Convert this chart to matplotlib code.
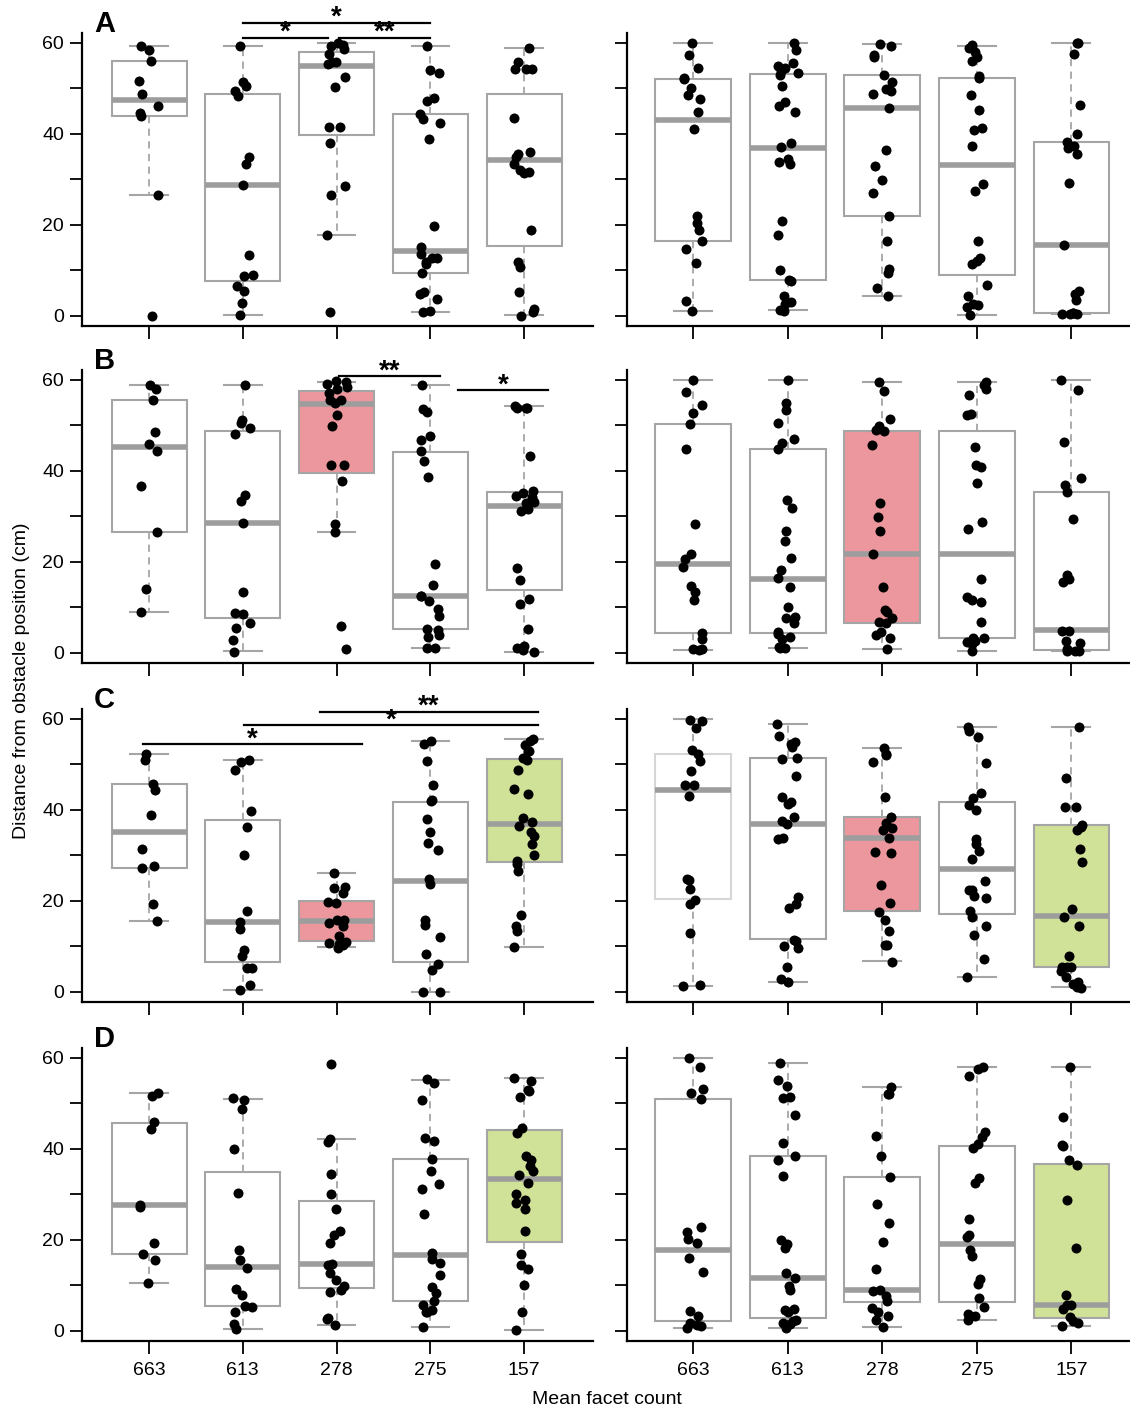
import matplotlib

matplotlib.use("Agg")
import matplotlib.pyplot as plt
import numpy as np

plt.rcParams["font.family"] = ["Liberation Sans", "DejaVu Sans"]

CATEGORIES = ["663", "613", "278", "275", "157"]
Y_LABEL = "Distance from obstacle position (cm)"
X_LABEL = "Mean facet count"

# box stats per category: (whisker low, q1, median, q3, whisker high)
A_LEFT_STATS = [
    (26.6, 43.8, 47.3, 55.9, 59.2),
    (0.2, 7.5, 28.6, 48.8, 59.2),
    (17.6, 39.7, 54.9, 57.9, 59.8),
    (0.7, 9.4, 14.1, 44.2, 59.2),
    (0.1, 15.2, 34.1, 48.6, 58.9),
]
A_LEFT_POINTS = [
    [59.2, 58.4, 55.9, 51.6, 48.6, 46.0, 44.5, 43.8, 26.6, 0.0],
    [59.2, 51.3, 50.5, 48.3, 49.3, 34.9, 33.4, 28.6, 13.4, 8.7, 8.9, 6.4, 5.3, 2.7, 0.1],
    [59.8, 59.3, 59.5, 58.5, 57.4, 55.8, 55.8, 55.3, 52.4, 50.2, 41.4, 41.4, 37.9, 28.4, 26.6, 17.6, 0.7],
    [59.2, 54.0, 53.2, 47.8, 47.1, 44.3, 43.2, 42.3, 38.7, 19.6, 15.0, 13.6, 12.6, 12.6, 11.4, 11.7,
     9.4, 5.1, 4.8, 3.7, 0.9, 0.7],
    [58.9, 55.7, 54.2, 54.1, 54.1, 43.4, 35.9, 35.4, 34.8, 33.3, 31.9, 31.5, 31.3, 18.7, 11.7, 10.6,
     5.1, 1.5, 0.7, 0.0],
]
A_RIGHT_STATS = [
    (1.0, 16.3, 42.9, 52.0, 60.0),
    (1.3, 7.9, 36.9, 53.1, 59.8),
    (4.2, 21.8, 45.7, 52.8, 59.6),
    (0.1, 9.0, 33.0, 52.3, 59.2),
    (0.3, 0.6, 15.4, 38.2, 59.8),
]
A_RIGHT_POINTS = [
    [60.0, 57.3, 54.3, 52.3, 52.0, 50.1, 48.5, 47.5, 44.8, 40.9, 21.8, 20.3, 18.9, 16.3, 14.7, 11.6,
     3.1, 1.0],
    [59.8, 58.4, 55.4, 54.8, 54.3, 53.7, 53.2, 52.9, 50.4, 47.0, 46.0, 44.8, 38.0, 37.1, 34.3, 33.8,
     33.2, 20.8, 17.8, 10.1, 7.9, 7.5, 4.2, 2.9, 2.6, 1.3, 1.1],
    [59.6, 59.2, 56.9, 57.3, 52.9, 51.4, 49.4, 49.7, 48.8, 45.7, 36.3, 32.8, 29.7, 26.9, 21.8, 16.4,
     10.3, 9.3, 6.1, 4.3],
    [59.5, 58.7, 58.0, 56.8, 55.9, 52.6, 52.2, 48.4, 45.2, 40.7, 41.3, 37.2, 28.9, 27.3, 16.3, 12.6,
     11.9, 11.4, 6.8, 4.3, 2.6, 2.4, 1.8, 0.1],
    [59.8, 59.8, 57.5, 46.3, 39.9, 38.2, 37.3, 36.9, 35.4, 29.2, 15.4, 5.4, 4.8, 3.5, 0.5, 0.4, 0.4,
     0.6, 0.4],
]

B_LEFT_STATS = [
    (8.9, 26.5, 45.1, 55.6, 58.9),
    (0.3, 7.6, 28.5, 48.6, 58.9),
    (26.5, 39.5, 54.6, 57.5, 59.5),
    (0.9, 5.1, 12.5, 44.1, 58.9),
    (0.1, 13.8, 32.3, 35.3, 54.2),
]
B_LEFT_POINTS = [
    [58.9, 58.0, 55.6, 48.4, 45.8, 44.2, 36.6, 26.5, 13.9, 8.9],
    [58.9, 51.1, 50.4, 49.3, 48.1, 34.7, 33.2, 28.5, 13.4, 8.7, 8.5, 6.6, 5.4, 2.7, 0.1],
    [59.7, 59.5, 59.1, 58.4, 58.0, 57.1, 54.8, 55.5, 55.4, 52.2, 49.8, 41.3, 41.3, 37.8, 28.3, 26.5,
     5.8, 0.7],
    [58.9, 53.5, 52.9, 47.7, 46.8, 44.2, 42.0, 38.5, 19.4, 14.9, 12.5, 12.5, 11.4, 9.5, 8.0, 5.2, 4.9,
     3.8, 3.4, 0.9, 0.9],
    [53.8, 53.8, 54.2, 53.8, 43.1, 35.5, 35.0, 34.5, 34.2, 33.8, 33.1, 32.9, 31.5, 31.1, 18.6, 16.0,
     11.7, 10.6, 5.1, 1.5, 0.5, 0.1, 0.9],
]
B_RIGHT_STATS = [
    (0.5, 4.2, 19.5, 50.3, 60.0),
    (1.0, 4.2, 16.1, 44.8, 59.8),
    (0.7, 6.4, 21.7, 48.8, 59.4),
    (0.4, 3.3, 21.7, 48.6, 59.4),
    (0.4, 0.6, 4.9, 35.3, 59.8),
]
B_RIGHT_POINTS = [
    [60.0, 57.2, 54.4, 52.7, 50.3, 44.8, 28.3, 21.7, 20.5, 18.9, 14.6, 13.4, 11.6, 4.2, 2.9, 0.7, 0.5,
     0.7],
    [59.8, 54.9, 53.2, 50.4, 47.0, 46.1, 44.8, 33.5, 31.8, 26.7, 24.5, 20.8, 18.1, 16.3, 14.3, 10.1,
     7.9, 7.5, 6.6, 4.6, 4.0, 3.4, 2.9, 1.2, 1.1, 1.0],
    [59.4, 57.4, 51.4, 49.7, 49.0, 48.8, 45.7, 32.8, 29.8, 26.8, 21.7, 14.3, 9.3, 8.9, 7.5, 6.8, 6.4,
     4.6, 3.9, 3.1, 0.7],
    [59.4, 58.7, 58.0, 56.7, 52.2, 52.5, 45.1, 40.7, 41.3, 37.2, 28.8, 27.2, 16.2, 12.2, 11.5, 11.1,
     6.8, 2.6, 3.3, 3.3, 1.8, 2.4, 0.4],
    [59.8, 57.6, 46.2, 38.3, 36.9, 35.3, 29.3, 17.0, 16.1, 15.4, 4.8, 4.8, 2.6, 2.0, 0.7, 0.4, 0.4, 0.4],
]

C_LEFT_STATS = [
    (15.4, 27.2, 35.1, 45.7, 52.1),
    (0.4, 6.5, 15.2, 37.8, 51.0),
    (9.7, 11.0, 15.5, 19.9, 26.0),
    (0.0, 6.4, 24.3, 41.6, 55.1),
    (9.7, 28.4, 36.8, 51.2, 55.4),
]
C_LEFT_POINTS = [
    [51.0, 52.1, 45.7, 44.2, 38.8, 31.4, 27.2, 27.6, 19.3, 15.4],
    [51.0, 50.4, 48.6, 39.6, 36.1, 30.0, 17.8, 15.2, 13.8, 9.2, 7.9, 5.2, 5.2, 1.5, 0.4],
    [26.0, 23.0, 22.8, 21.7, 19.7, 19.4, 15.7, 14.5, 15.7, 15.1, 12.2, 10.5, 10.7, 10.3, 9.6, 10.8],
    [54.3, 55.0, 50.7, 45.3, 42.2, 41.8, 37.9, 35.0, 32.6, 31.1, 24.8, 23.7, 15.7, 14.7, 12.0, 8.2,
     6.1, 4.8, 0.0, 0.0],
    [55.6, 55.0, 54.1, 52.8, 52.8, 51.4, 51.0, 48.8, 44.6, 43.4, 38.1, 37.3, 36.3, 35.0, 34.1, 32.4,
     30.0, 28.6, 28.1, 26.5, 16.9, 14.4, 13.3, 9.7],
]
C_RIGHT_STATS = [
    (1.3, 20.3, 44.3, 52.3, 60.0),
    (2.0, 11.6, 36.9, 51.3, 58.9),
    (6.7, 17.6, 33.8, 38.3, 53.6),
    (3.3, 17.1, 27.0, 41.6, 58.1),
    (0.9, 5.5, 16.5, 36.5, 58.1),
]
C_RIGHT_POINTS = [
    [59.5, 59.7, 57.9, 53.0, 52.3, 50.6, 48.4, 45.4, 45.4, 42.9, 24.7, 24.6, 22.5, 20.2, 19.2, 12.9,
     1.5, 1.3],
    [58.9, 56.1, 54.9, 54.4, 53.7, 51.4, 51.2, 47.4, 42.7, 41.2, 41.6, 38.3, 37.5, 36.9, 33.6, 33.8,
     20.8, 19.2, 18.3, 11.4, 11.1, 10.1, 9.6, 5.4, 2.7, 2.0],
    [53.6, 52.1, 51.9, 50.5, 42.8, 38.3, 37.1, 35.9, 35.4, 33.8, 30.6, 30.4, 23.5, 19.4, 17.5, 15.8,
     13.4, 10.3, 10.3, 6.6],
    [58.1, 57.3, 55.9, 50.3, 43.6, 42.5, 40.9, 40.0, 33.5, 32.4, 30.8, 29.1, 24.4, 22.4, 22.3, 21.0,
     20.5, 17.7, 16.3, 14.5, 12.4, 7.1, 3.3],
    [58.1, 46.9, 40.6, 40.5, 36.5, 36.2, 35.4, 31.3, 28.4, 18.1, 16.3, 14.5, 7.8, 5.5, 5.4, 5.5, 4.6,
     3.3, 1.7, 0.9, 0.7, 2.0],
]

D_LEFT_STATS = [
    (10.5, 16.8, 27.6, 45.7, 52.1),
    (0.4, 5.3, 13.9, 34.9, 51.0),
    (1.3, 9.4, 14.7, 28.5, 42.0),
    (0.7, 6.4, 16.6, 37.8, 55.1),
    (0.1, 19.4, 33.3, 44.0, 55.5),
]
D_LEFT_POINTS = [
    [52.3, 51.5, 45.8, 44.2, 27.6, 27.2, 19.3, 16.9, 15.5, 10.5],
    [51.1, 50.6, 48.7, 39.8, 30.2, 17.8, 15.5, 13.8, 9.1, 7.9, 5.4, 5.2, 4.1, 1.5, 0.3],
    [58.5, 42.0, 41.4, 34.3, 30.1, 26.8, 21.9, 20.9, 19.3, 14.5, 14.7, 12.7, 11.0, 9.7, 8.8, 8.4, 2.5,
     2.7, 1.3],
    [55.2, 54.3, 50.7, 42.3, 41.6, 37.8, 35.0, 32.3, 31.2, 25.6, 17.1, 15.8, 14.9, 12.1, 9.5, 8.2, 6.4,
     5.7, 4.6, 4.1, 4.0, 0.7],
    [55.5, 54.9, 52.9, 52.7, 51.3, 44.5, 43.4, 38.3, 37.5, 36.2, 35.1, 34.2, 32.4, 30.1, 28.7, 28.0,
     26.8, 21.9, 16.9, 14.4, 13.5, 9.9, 4.0, 0.1],
]
D_RIGHT_STATS = [
    (0.6, 2.0, 17.6, 50.8, 59.9),
    (0.6, 2.8, 11.5, 38.3, 58.9),
    (0.7, 6.2, 8.9, 33.8, 53.5),
    (2.4, 6.2, 19.1, 40.5, 58.0),
    (0.9, 2.8, 5.6, 36.6, 58.0),
]
D_RIGHT_POINTS = [
    [59.9, 58.0, 53.1, 52.2, 50.8, 22.7, 21.7, 20.2, 19.3, 16.0, 12.9, 4.2, 3.3, 1.3, 0.6, 1.1, 1.6],
    [58.9, 55.1, 53.8, 51.4, 51.2, 47.4, 41.2, 38.3, 37.5, 34.0, 19.8, 19.1, 18.2, 12.7, 11.5, 9.8,
     8.9, 4.6, 4.7, 4.0, 2.0, 2.3, 1.5, 0.6, 1.6],
    [53.5, 52.0, 51.9, 42.8, 38.3, 33.8, 27.8, 23.6, 19.5, 13.5, 8.9, 8.7, 7.6, 6.4, 4.9, 4.0, 3.1,
     2.3, 0.7],
    [58.0, 57.5, 55.9, 43.6, 42.5, 40.9, 40.1, 33.5, 32.5, 24.5, 21.0, 20.5, 17.8, 16.4, 11.3, 10.2,
     7.1, 5.2, 3.6, 3.3, 2.4],
    [58.0, 46.9, 40.7, 40.5, 37.5, 36.4, 28.6, 18.2, 7.9, 5.7, 5.7, 4.7, 2.9, 2.2, 1.6, 1.1],
]

# which boxes are highlighted (category index -> colour key)
B_FILLS = {2: "red"}
C_FILLS = {2: "red", 4: "green"}
D_FILLS = {4: "green"}

# significance brackets on the left panels: (x start, x end, y, label)
A_SIG = [(2.0, 4.0, 64.4, "*"), (2.0, 2.91, 61.1, "*"), (3.03, 4.0, 61.1, "**")]
B_SIG = [(3.03, 4.1, 60.7, "**"), (4.3, 5.26, 57.6, "*")]
C_SIG = [(2.82, 5.15, 61.5, "**"), (2.01, 5.15, 58.5, "*"), (0.94, 3.27, 54.3, "*")]

FILL_COLORS = {"red": "#ec979d", "green": "#d0e198"}
BOX_EDGE = "#a5a5a5"
MEDIAN_COLOR = "#9d9d9d"

ROWS = [
    ("A", A_LEFT_STATS, A_LEFT_POINTS, A_RIGHT_STATS, A_RIGHT_POINTS, {}, A_SIG),
    ("B", B_LEFT_STATS, B_LEFT_POINTS, B_RIGHT_STATS, B_RIGHT_POINTS, B_FILLS, B_SIG),
    ("C", C_LEFT_STATS, C_LEFT_POINTS, C_RIGHT_STATS, C_RIGHT_POINTS, C_FILLS, C_SIG),
    ("D", D_LEFT_STATS, D_LEFT_POINTS, D_RIGHT_STATS, D_RIGHT_POINTS, D_FILLS, []),
]

W, H = 1130, 1412
ROW_TOPS = [33, 370, 709, 1048]
ROW_HEIGHT = 293
FONT_SIZE = 14

rng = np.random.default_rng(11)


def draw_panel(ax, stats, points, fills, light_first=False):
    bxp_stats = [
        dict(whislo=s[0], q1=s[1], med=s[2], q3=s[3], whishi=s[4], fliers=[])
        for s in stats
    ]
    positions = np.arange(1, len(CATEGORIES) + 1)
    art = ax.bxp(
        bxp_stats,
        positions=positions,
        widths=0.8,
        capwidths=0.4,
        patch_artist=True,
        showfliers=False,
        manage_ticks=False,
        boxprops=dict(facecolor="white", edgecolor=BOX_EDGE, linewidth=1.5),
        whiskerprops=dict(color=BOX_EDGE, linewidth=1.3, linestyle=(0, (4, 3))),
        capprops=dict(color=BOX_EDGE, linewidth=1.5),
        medianprops=dict(color=MEDIAN_COLOR, linewidth=4.0, solid_capstyle="butt"),
    )
    for idx, key in fills.items():
        art["boxes"][idx].set_facecolor(FILL_COLORS[key])
    if light_first:
        art["boxes"][0].set_edgecolor("#d6d6d6")

    for pos, vals in zip(positions, points):
        xs = pos + rng.uniform(-0.11, 0.11, len(vals))
        ax.plot(xs, vals, "o", color="black", markersize=7.2, markeredgewidth=0, zorder=4,
                clip_on=False)


def style_axes(ax, xlim, show_ylabels, show_xlabels):
    ax.set_xlim(*xlim)
    ax.set_ylim(-2.3, 62.1)
    for side in ("top", "right"):
        ax.spines[side].set_visible(False)
    for side in ("left", "bottom"):
        ax.spines[side].set_linewidth(1.6)
    ax.set_yticks(np.arange(0, 61, 10))
    if show_ylabels:
        ax.set_yticklabels(["0", "", "20", "", "40", "", "60"])
    else:
        ax.set_yticklabels([])
    ax.set_xticks(np.arange(1, len(CATEGORIES) + 1))
    ax.set_xticklabels(CATEGORIES if show_xlabels else [])
    ax.tick_params(axis="both", direction="out", length=9, width=1.3, labelsize=FONT_SIZE)
    ax.tick_params(axis="y", pad=4)
    ax.tick_params(axis="x", pad=6)


fig = plt.figure(figsize=(W / 100, H / 100), dpi=100)

for r, (letter, l_stats, l_pts, r_stats, r_pts, fills, sig) in enumerate(ROWS):
    top = ROW_TOPS[r]
    bottom = 1 - (top + ROW_HEIGHT) / H
    height = ROW_HEIGHT / H
    ax_l = fig.add_axes([82 / W, bottom, 511 / W, height])
    ax_r = fig.add_axes([627 / W, bottom, 503 / W, height])
    last = r == len(ROWS) - 1

    draw_panel(ax_l, l_stats, l_pts, fills)
    draw_panel(ax_r, r_stats, r_pts, fills, light_first=(letter == "C"))
    style_axes(ax_l, (0.285, 5.736), True, last)
    style_axes(ax_r, (0.30, 5.62), False, last)

    for x0, x1, y, label in sig:
        ax_l.plot([x0, x1], [y, y], color="black", linewidth=1.6, clip_on=False)
        ax_l.text((x0 + x1) / 2, y - 0.5, label, ha="center", va="baseline",
                  fontsize=20, fontweight="bold", clip_on=False)

    fig.text(94 / W, 1 - (top - 1) / H, letter, fontsize=21, fontweight="bold",
             ha="left", va="baseline")

fig.text(22 / W, 1 - 681 / H, Y_LABEL, rotation=90, ha="center", va="center", fontsize=FONT_SIZE)
fig.text(607 / W, 1 - 1400 / H, X_LABEL, ha="center", va="center", fontsize=FONT_SIZE)

fig.savefig("out.png", dpi=100)
